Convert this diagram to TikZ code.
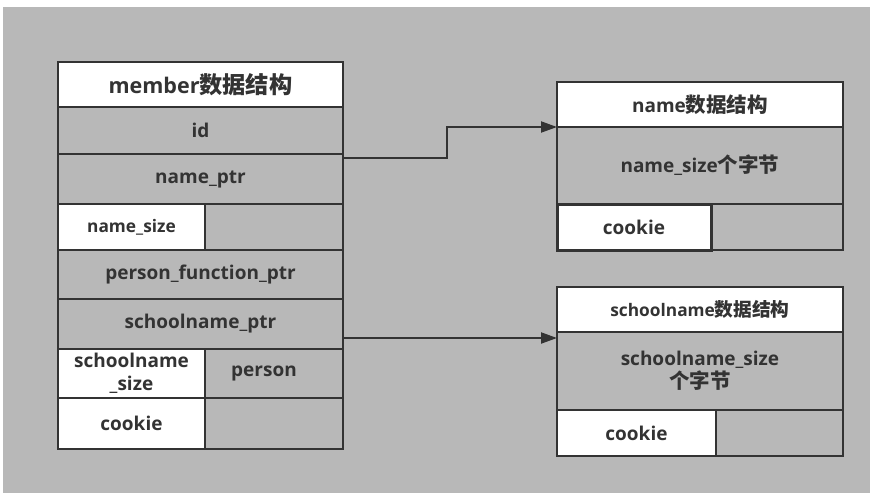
\documentclass[tikz,border=0pt]{standalone}
\usepackage{fontspec}
\setmainfont{Open Sans}
\newfontfamily\cjk{Noto Sans CJK SC}[Scale=1.08]
\usetikzlibrary{arrows.meta}
\newcommand\zh[1]{{\cjk\bfseries #1}}
\newcommand\fs[1]{\fontsize{#1}{23}\selectfont}
\definecolor{bggray}{HTML}{B8B8B8}
\definecolor{ink}{HTML}{333333}
\tikzset{
  cell/.style={draw=ink, line width=2pt, rectangle, inner sep=0pt, outer sep=0pt,
    anchor=north west, text=ink, font=\bfseries\fs{19}, align=center},
  wcell/.style={cell, fill=white},
  gcell/.style={cell, fill=bggray},
  link/.style={draw=ink, line width=2pt, -{Triangle[length=16pt,width=11pt]}},
}
\begin{document}
\begin{tikzpicture}[x=1pt,y=-1pt]
\useasboundingbox (0,0) rectangle (870,493);
\fill[white] (0,0) rectangle (870,493);
\fill[bggray] (3,7) rectangle (870,493);
% member table
\node[wcell, minimum width=285pt, minimum height=45pt, font=\bfseries\fs{21.5}] (mhead) at (58,62) {member\zh{数据结构}};
\node[gcell, minimum width=285pt, minimum height=47pt] (mid) at (58,107) {id};
\node[gcell, minimum width=285pt, minimum height=50pt] (mnameptr) at (58,154) {name\_ptr};
\node[wcell, minimum width=147pt, minimum height=46pt, font=\bfseries\fs{17.3}] (mnsize) at (58,204) {name\_size};
\node[gcell, minimum width=138pt, minimum height=46pt] (mnsizeb) at (205,204) {};
\node[gcell, minimum width=285pt, minimum height=49pt] (mpfp) at (58,250) {person\_function\_ptr};
\node[gcell, minimum width=285pt, minimum height=50pt] (msptr) at (58,299) {schoolname\_ptr};
\node[wcell, minimum width=147pt, minimum height=49pt] (mssize) at (58,349) {schoolname\\\_size};
\node[gcell, minimum width=138pt, minimum height=49pt] (mperson) at (205,349) {\hspace*{-20pt}person};
\node[wcell, minimum width=147pt, minimum height=51pt] (mcookie) at (58,398) {cookie};
\node[gcell, minimum width=138pt, minimum height=51pt] (mcookieb) at (205,398) {};
% name structure
\node[wcell, minimum width=286pt, minimum height=45pt] (nhead) at (557,82) {name\zh{数据结构}};
\node[gcell, minimum width=286pt, minimum height=77pt] (nbody) at (557,127) {name\_size\zh{个字节}};
\node[gcell, minimum width=132pt, minimum height=46pt] (ncookieb) at (711,204) {};
\node[wcell, minimum width=154pt, minimum height=46pt, line width=3pt] (ncookie) at (557,204) {cookie};
% schoolname structure
\node[wcell, minimum width=286pt, minimum height=45pt, font=\bfseries\fs{17.3}] (shead) at (557,287) {schoolname\zh{数据结构}};
\node[gcell, minimum width=286pt, minimum height=78pt] (sbody) at (557,332) {schoolname\_size\\\zh{个字节}};
\node[wcell, minimum width=159pt, minimum height=46pt] (scookie) at (557,410) {cookie};
\node[gcell, minimum width=127pt, minimum height=46pt] (scookieb) at (716,410) {};
% links
\coordinate (a1) at ([yshift=-4pt]mnameptr.north east);
\draw[link] (a1) -- ++(104,0) |- (nhead.south west);
\coordinate (b1) at ([yshift=11pt]msptr.south east);
\draw[link] (b1) -- (b1 -| sbody.west);
\end{tikzpicture}
\end{document}
